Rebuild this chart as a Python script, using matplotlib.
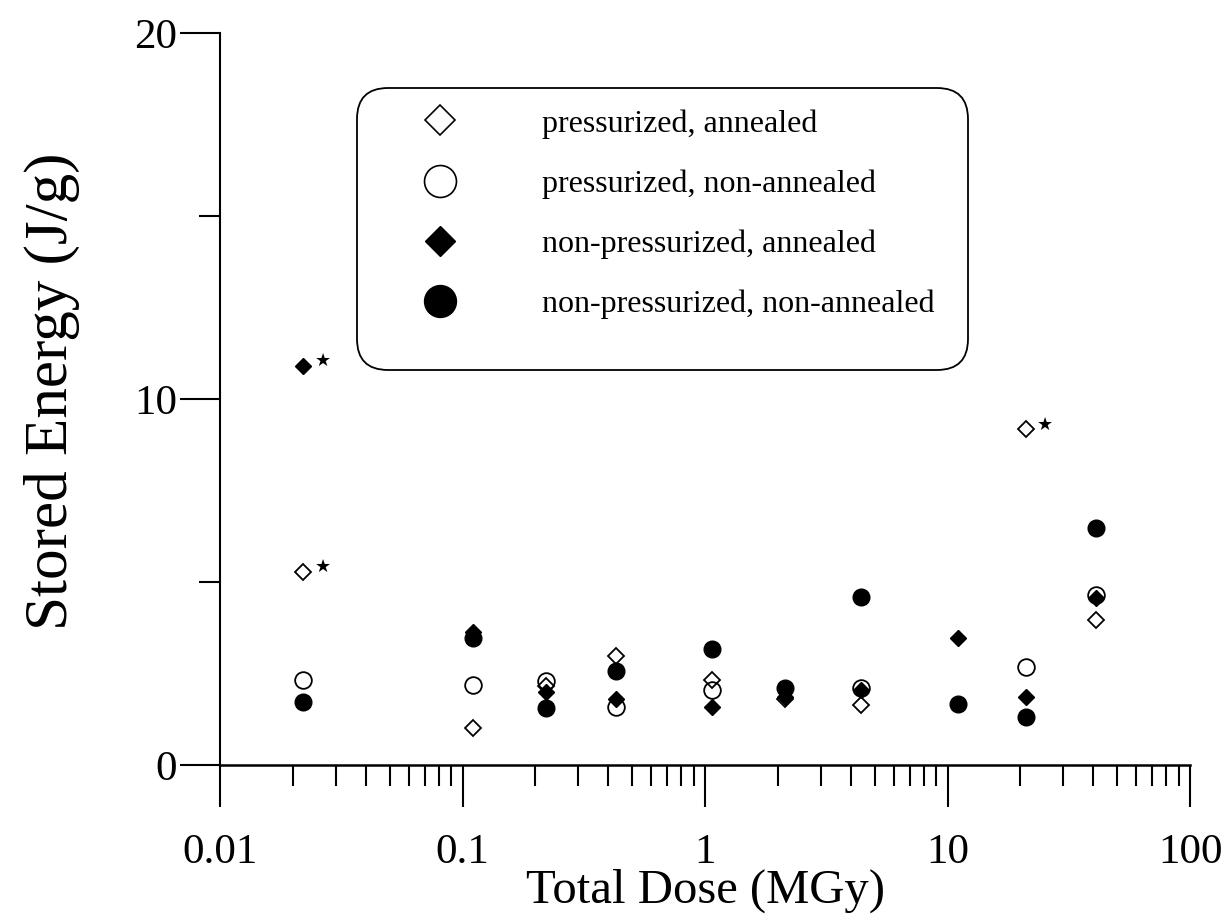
import matplotlib
matplotlib.use("Agg")
import matplotlib.pyplot as plt
from matplotlib.patches import FancyBboxPatch
from matplotlib.lines import Line2D
from matplotlib.ticker import LogLocator, NullFormatter, FixedLocator

plt.rcParams['font.family'] = ['Liberation Serif', 'DejaVu Serif']

# ---- data ----
labels = ["pressurized, annealed", "pressurized, non-annealed",
          "non-pressurized, annealed", "non-pressurized, non-annealed"]

pa_dose = [0.022, 0.11, 0.22, 0.43, 1.07, 2.14, 4.4, 21, 41]
pa_energy = [5.27, 1.01, 2.16, 2.97, 2.32, 1.8, 1.64, 9.17, 3.96]

pn_dose = [0.022, 0.11, 0.22, 0.43, 1.07, 4.4, 21, 41]
pn_energy = [2.32, 2.18, 2.29, 1.59, 2.05, 2.1, 2.67, 4.64]

na_dose = [0.022, 0.11, 0.22, 0.43, 1.07, 2.14, 4.4, 11, 21, 41]
na_energy = [10.9, 3.63, 2.0, 1.8, 1.58, 1.85, 2.05, 3.46, 1.86, 4.56]

nn_dose = [0.022, 0.11, 0.22, 0.43, 1.07, 2.14, 4.4, 11, 21, 41]
nn_energy = [1.72, 3.47, 1.55, 2.57, 3.16, 2.1, 4.58, 1.68, 1.3, 6.47]

# flagged points (marked with a star)
star_dose = [0.022, 0.022, 21]
star_energy = [10.9, 5.27, 9.17]

xticks = [0.01, 0.1, 1, 10, 100]
xticklabels = ["0.01", "0.1", "1", "10", "100"]
yticks = [0, 10, 20]
yticklabels = ["0", "10", "20"]
yminor = [5, 15]

# ---- figure ----
fig = plt.figure(figsize=(12.28, 9.19), dpi=100)
ax = fig.add_axes([220/1228, 1-765/919, 970/1228, 732/919])

ax.set_xscale('log')
ax.set_xlim(0.01, 100)
ax.set_ylim(0, 20)

ax.plot(pa_dose, pa_energy, linestyle='none', marker='D', markersize=8,
        markerfacecolor='none', markeredgecolor='black', markeredgewidth=1.3, zorder=3)
ax.plot(pn_dose, pn_energy, linestyle='none', marker='o', markersize=12,
        markerfacecolor='none', markeredgecolor='black', markeredgewidth=1.3, zorder=3)
ax.plot(na_dose, na_energy, linestyle='none', marker='D', markersize=8,
        markerfacecolor='black', markeredgecolor='black', zorder=4)
ax.plot(nn_dose, nn_energy, linestyle='none', marker='o', markersize=12,
        markerfacecolor='black', markeredgecolor='black', zorder=4)

for xd, yd in zip(star_dose, star_energy):
    ax.annotate('\u2605', (xd, yd), xytext=(14, 3.5), textcoords='offset points',
                fontsize=13, family=['DejaVu Sans'], ha='center', va='center')

# spines & ticks
ax.spines['top'].set_visible(False)
ax.spines['right'].set_visible(False)
ax.spines['left'].set_linewidth(1.5)
ax.spines['bottom'].set_linewidth(1.8)

ax.xaxis.set_major_locator(FixedLocator(xticks))
ax.set_xticklabels(xticklabels)
ax.xaxis.set_minor_locator(LogLocator(base=10, subs=[2, 3, 4, 5, 6, 7, 8, 9]))
ax.xaxis.set_minor_formatter(NullFormatter())
ax.set_yticks(yticks)
ax.set_yticklabels(yticklabels)
ax.yaxis.set_minor_locator(FixedLocator(yminor))

ax.tick_params(axis='x', which='major', direction='out', length=30, width=1.5,
               labelsize=31, pad=19)
ax.tick_params(axis='x', which='minor', direction='out', length=15, width=1.5)
ax.tick_params(axis='y', which='major', direction='out', length=29, width=1.5,
               labelsize=31, pad=2)
ax.tick_params(axis='y', which='minor', direction='out', length=15, width=1.5)

ax.set_xlabel("Total Dose (MGy)", fontsize=35)
ax.xaxis.set_label_coords(0.5, (765-869)/732)
ax.set_ylabel("Stored Energy (J/g)", fontsize=44)
ax.yaxis.set_label_coords((80-220)/970, 0.51)

# legend box
x0, y0 = (357-220)/970, (765-370)/732
x1, y1 = (968-220)/970, (765-88)/732
box = FancyBboxPatch((x0, y0), x1-x0, y1-y0, transform=ax.transAxes,
                     boxstyle="round,pad=0,rounding_size=0.032",
                     facecolor='white', edgecolor='black', linewidth=1.3,
                     zorder=5, mutation_aspect=970/732)
ax.add_patch(box)

handles = [
    Line2D([], [], linestyle='none', marker='D', markersize=15.5, markerfacecolor='none',
           markeredgecolor='black', markeredgewidth=1.2),
    Line2D([], [], linestyle='none', marker='o', markersize=23, markerfacecolor='none',
           markeredgecolor='black', markeredgewidth=1.2),
    Line2D([], [], linestyle='none', marker='D', markersize=15.5, markerfacecolor='black',
           markeredgecolor='black'),
    Line2D([], [], linestyle='none', marker='o', markersize=23, markerfacecolor='black',
           markeredgecolor='black'),
]
leg = ax.legend(handles, labels, loc='upper left', bbox_to_anchor=(x0, y1),
                frameon=False, fontsize=23, handletextpad=1.22, labelspacing=0.96,
                borderpad=0.66, borderaxespad=0, handlelength=3.9)
leg.set_zorder(6)

fig.savefig("out.png", dpi=100)
